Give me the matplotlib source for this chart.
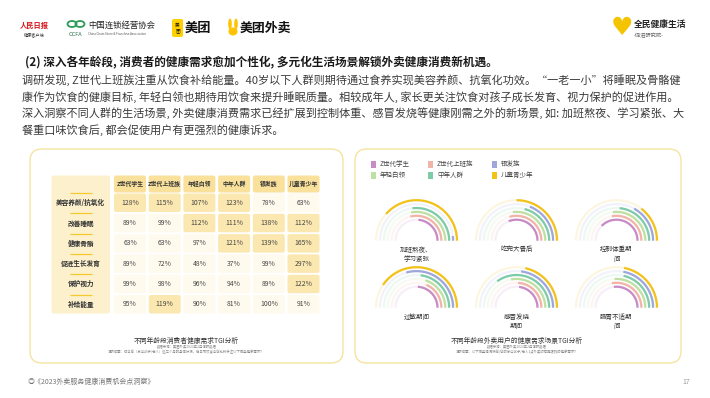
import numpy as np
import matplotlib
matplotlib.use('Agg')
import matplotlib.pyplot as plt
from matplotlib.patches import FancyBboxPatch, Rectangle, Ellipse
from matplotlib.colors import to_rgb

plt.rcParams['font.family'] = ['Noto Sans CJK SC', 'DejaVu Sans']

W, H = 710, 398

# ---------------- data ----------------
title = "(2) 深入各年龄段, 消费者的健康需求愈加个性化, 多元化生活场景解锁外卖健康消费新机遇。"
body_lines = [
    "调研发现, Z世代上班族注重从饮食补给能量。40岁以下人群则期待通过食养实现美容养颜、抗氧化功效。“一老一小”将睡眠及骨骼健",
    "康作为饮食的健康目标, 年轻白领也期待用饮食来提升睡眠质量。相较成年人, 家长更关注饮食对孩子成长发育、视力保护的促进作用。",
    "深入洞察不同人群的生活场景, 外卖健康消费需求已经扩展到控制体重、感冒发烧等健康刚需之外的新场景, 如: 加班熬夜、学习紧张、大",
    "餐重口味饮食后, 都会促使用户有更强烈的健康诉求。",
]

table_cols = ['Z世代学生', 'Z世代上班族', '年轻白领', '中年人群', '银发族', '儿童青少年']
table_rows = ['美容养颜/抗氧化', '改善睡眠', '健康骨骼', '促进生长发育', '保护视力', '补给能量']
tgi = [
    [128, 115, 107, 123, 78, 63],
    [89, 99, 112, 111, 138, 112],
    [63, 63, 97, 121, 139, 165],
    [89, 72, 48, 37, 99, 297],
    [99, 98, 96, 94, 89, 122],
    [95, 119, 90, 81, 100, 91],
]

groups = ['Z世代学生', 'Z世代上班族', '年轻白领', '中年人群', '银发族', '儿童青少年']
group_colors = ['#C88BC6', '#F2B4A7', '#BEE0A2', '#7ECBA9', '#9FA6DB', '#F2C21B']
scenes = ['加班熬夜、\n学习紧张', '吃完大餐后', '控制体重期\n间', '过敏期间', '感冒发烧\n期间', '肠胃不适期\n间']
# share of the half circle (%) per group, inner ring -> outer ring
scene_share = [
    [47, 58, 56, 54, 4, 77],
    [62, 59, 54, 42, 38, 50],
    [75, 56, 54, 47, 34, 29],
    [48, 37, 40, 46, 59, 81],
    [46, 48, 56, 70, 46, 43],
    [54, 56, 52, 43, 44, 44],
]

left_caption = "不同年龄段消费者健康需求TGI分析"
left_src = ["数据来源：美团外卖2023年2月调研数据",
            "调研问题：结合您（家中孩子/老人）近三个月的身体状况，在日常饮食中您比较关注以下哪些健康需求？"]
right_caption = "不同年龄段外卖用户的健康需求场景TGI分析"
right_src = ["数据来源：美团外卖2023年2月调研数据",
             "调研问题：以下哪些情况使您/您的家中孩子/老人1点外卖时有更强烈的健康需求？"]
footer = "◎《2023外卖服务健康消费机会点洞察》"
page_no = "17"

# ---------------- figure ----------------
fig = plt.figure(figsize=(W / 100, H / 100), dpi=100)
fig.patch.set_facecolor('white')
cv = fig.add_axes([0, 0, 1, 1])
cv.set_xlim(0, W)
cv.set_ylim(H, 0)
cv.axis('off')

# ---- header logos ----
cv.text(34, 25, '人民日报', color='#D7141A', fontsize=5.2, fontweight='bold', ha='center', va='center')
cv.text(34, 34.5, '健康客户端', color='#333333', fontsize=3.0, ha='center', va='center')

cv.add_patch(Ellipse((72, 24), 9, 6, fill=False, ec='#2E9B57', lw=1.3))
cv.add_patch(Ellipse((80, 24), 9, 6, fill=False, ec='#2E9B57', lw=1.3))
cv.text(75, 34, 'CCFA', color='#2E6E4A', fontsize=4.0, ha='center', va='center')
cv.text(88, 25.5, '中国连锁经营协会', color='#222222', fontsize=6.0, ha='left', va='center')
cv.text(88, 34, 'China Chain Store & Franchise Association', color='#555555', fontsize=2.2,
        ha='left', va='center')

cv.add_patch(FancyBboxPatch((172, 19), 11, 18, boxstyle='round,pad=0,rounding_size=2',
                            fc='#FFD100', ec='none'))
cv.text(177.5, 28, '美\n团', fontsize=3.3, ha='center', va='center', linespacing=1.0, color='#111111')
cv.text(185, 28, '美团', fontsize=9.5, fontweight='bold', ha='left', va='center', color='#111111')

cv.add_patch(Ellipse((230, 24), 3.6, 11, fc='#FFC300', ec='none'))
cv.add_patch(Ellipse((236, 24), 3.6, 11, fc='#FFC300', ec='none'))
cv.add_patch(Ellipse((233, 31.5), 9, 8, fc='#FFC300', ec='none'))
cv.text(240, 28, '美团外卖', fontsize=9.3, fontweight='bold', ha='left', va='center', color='#111111')

cv.text(622, 28, '♥', fontsize=18, color='#F5C400', ha='center', va='center', family='DejaVu Sans')
cv.text(634, 25, '全民健康生活', fontsize=6.3, fontweight='bold', ha='left', va='center', color='#222222')
cv.text(634, 35, '-促进研究院-', fontsize=3.8, ha='left', va='center', color='#666666')

# ---- title & body ----
cv.text(25, 62, title, fontsize=8.4, fontweight='bold', ha='left', va='center', color='#1A1A1A')
for i, line in enumerate(body_lines):
    cv.text(22, 80 + i * 16.7, line, fontsize=8.0, ha='left', va='center', color='#3A3A3A')

# ---- panels ----
for (x0, x1) in [(30, 343), (355, 681)]:
    cv.add_patch(FancyBboxPatch((x0, 149), x1 - x0, 214, boxstyle='round,pad=0,rounding_size=12',
                                fc='white', ec='#F6E3A0', lw=1.0))

# ---- table ----
col_left0, col_pitch, col_w = 114, 34.7, 32
hdr_top, hdr_h = 175.5, 17
row_top0, row_pitch, row_h = 193.5, 20.3, 18.5
lab_x0, lab_x1 = 51.5, 110
last_bottom = row_top0 + (len(table_rows) - 1) * row_pitch + row_h

cv.add_patch(FancyBboxPatch((lab_x0, hdr_top), lab_x1 - lab_x0, last_bottom - hdr_top,
                            boxstyle='round,pad=0,rounding_size=2', fc='#FDF1CD', ec='none'))
for j, c in enumerate(table_cols):
    x0 = col_left0 + j * col_pitch
    cv.add_patch(FancyBboxPatch((x0, hdr_top), col_w, hdr_h, boxstyle='round,pad=0,rounding_size=2',
                                fc='#F9E19C', ec='none'))
    cv.text(x0 + col_w / 2, hdr_top + hdr_h / 2, c, fontsize=4.2, ha='center', va='center',
            color='#333333', fontweight='bold')
for i, r in enumerate(table_rows):
    y0 = row_top0 + i * row_pitch
    yc = y0 + row_h / 2
    cv.plot([70, 92], [y0 - 0.5, y0 - 0.5], color='#F5C930', lw=0.9, solid_capstyle='butt')
    cv.text((lab_x0 + lab_x1) / 2, yc, r, fontsize=4.8, ha='center', va='center',
            color='#333333', fontweight='bold')
    for j in range(len(table_cols)):
        v = tgi[i][j]
        x0 = col_left0 + j * col_pitch
        fc = '#FBE8B0' if v > 100 else '#FFFAEE'
        cv.add_patch(FancyBboxPatch((x0, y0), col_w, row_h, boxstyle='round,pad=0,rounding_size=2',
                                    fc=fc, ec='none'))
        cv.text(x0 + col_w / 2, yc, f'{v}%', fontsize=4.9, ha='center', va='center', color='#444444')

cv.text(186.5, 341, left_caption, fontsize=4.9, ha='center', va='center', color='#333333')
cv.text(186.5, 347.3, left_src[0], fontsize=2.4, ha='center', va='center', color='#888888')
cv.text(186.5, 352.3, left_src[1], fontsize=2.4, ha='center', va='center', color='#888888')

# ---- legend (right panel) ----
legend_order = [0, 1, 4, 2, 3, 5]
leg_x = [371, 428, 492]
leg_y = [164, 175.5]
for k, g in enumerate(legend_order):
    xx = leg_x[k % 3]
    yy = leg_y[k // 3]
    cv.add_patch(Rectangle((xx, yy - 3.5), 5, 7, fc=group_colors[g], ec='none'))
    cv.text(xx + 9, yy, groups[g], fontsize=4.7, ha='left', va='center', color='#444444')


def tint(c, f=0.86):
    r, g, b = to_rgb(c)
    return (r + (1 - r) * f, g + (1 - g) * f, b + (1 - b) * f)


# ---- radial arc charts ----
r_inner, r_step = 21.0, 3.9
for k, sc in enumerate(scenes):
    cx = 416.5 + (k % 3) * 100
    cy = 240.7 if k < 3 else 307.7
    ax = fig.add_axes([(cx - 46) / W, 1 - (cy + 4) / H, 92 / W, 50 / H])
    ax.set_xlim(-46, 46)
    ax.set_ylim(-4, 46)
    ax.axis('off')
    ax.patch.set_alpha(0)
    for g in range(len(groups)):
        r = r_inner + g * r_step
        th_full = np.linspace(0, np.pi, 200)
        ax.plot(r * np.cos(th_full), r * np.sin(th_full), color=tint(group_colors[g]),
                lw=1.6, solid_capstyle='butt')
        th = np.linspace(0, np.pi * scene_share[k][g] / 100.0, 200)
        ax.plot(r * np.cos(th), r * np.sin(th), color=group_colors[g], lw=1.6, solid_capstyle='butt')
    cv.text(cx, cy + 4.8, sc, fontsize=4.7, ha='center', va='top', color='#333333', linespacing=1.2)

cv.text(517, 341, right_caption, fontsize=4.9, ha='center', va='center', color='#333333')
cv.text(517, 347.3, right_src[0], fontsize=2.4, ha='center', va='center', color='#888888')
cv.text(517, 352.3, right_src[1], fontsize=2.4, ha='center', va='center', color='#888888')

# ---- footer ----
cv.text(28, 382, footer, fontsize=5.0, ha='left', va='center', color='#777777')
cv.text(690, 382, page_no, fontsize=5.0, ha='right', va='center', color='#999999')

fig.savefig('out.png', dpi=100, facecolor='white')
